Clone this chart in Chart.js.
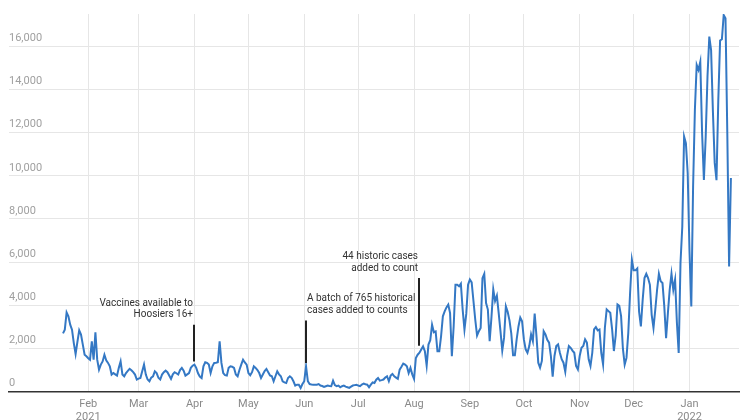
<!DOCTYPE html>
<html>
<head>
<meta charset="utf-8">
<script src="https://cdn.jsdelivr.net/npm/chart.js@4.4.1/dist/chart.umd.min.js"></script>
<style>
    html, body { margin: 0; padding: 0; background: #fff; overflow: hidden; }
    #wrap { position: relative; width: 750px; height: 430px; }
</style>
</head>
<body>
<div id="wrap"><canvas id="cases_chart"></canvas></div>
<script>
// daily new cases, one array per month; first value is Jan 18 2021
const firstDay = "2021-01-18";
const jan2021 = [2700, 2870, 3670, 3490, 3100, 2870, 2250, 1740, 2300, 2840, 2640, 2180, 1710, 1640];
const feb2021 = [1550, 1480, 2330, 1480, 2750, 1480, 1020, 1250, 1400, 1710, 1450, 1330, 1170, 790, 860, 800, 740, 1100, 1400, 790, 710, 860, 960, 1050, 990, 900, 790, 560];
const mar2021 = [600, 630, 940, 1250, 790, 560, 480, 650, 710, 940, 860, 640, 560, 790, 900, 970, 900, 750, 590, 800, 900, 850, 790, 1000, 1100, 970, 740, 800, 860, 1100, 1200];
const apr2021 = [1250, 1100, 850, 700, 630, 1170, 1360, 1330, 1250, 860, 1170, 1330, 1340, 1360, 2330, 1330, 860, 760, 740, 1100, 1170, 1150, 1100, 790, 710, 1000, 1250, 1480, 1350, 1250];
const may2021 = [860, 760, 900, 1170, 1100, 1000, 860, 630, 790, 950, 1050, 900, 750, 710, 480, 710, 940, 800, 710, 480, 430, 400, 630, 710, 640, 480, 280, 320, 320, 170, 350];
const jun2021 = [480, 1170, 480, 350, 330, 320, 320, 320, 350, 280, 260, 220, 250, 280, 260, 250, 510, 300, 250, 280, 200, 250, 280, 230, 200, 170, 230, 280, 300, 320];
const jul2021 = [280, 250, 330, 370, 340, 320, 200, 320, 430, 400, 550, 630, 510, 530, 560, 650, 710, 480, 740, 820, 710, 650, 590, 1020, 1150, 1300, 1250, 1170, 860, 1100, 800];
const aug2021 = [590, 1560, 1710, 1800, 1950, 2100, 1870, 1200, 2180, 2380, 3100, 2750, 2790, 1870, 1870, 2560, 3490, 3720, 3900, 4030, 3640, 1640, 3020, 4950, 4950, 4880, 5000, 3800, 2870, 3600, 4950];
const sep2021 = [5190, 5060, 4200, 3330, 2600, 2800, 2950, 5260, 5460, 4100, 3800, 2340, 3450, 4740, 4200, 4450, 3650, 2800, 1900, 2500, 3950, 3700, 3300, 2700, 1680, 1680, 2420, 3020, 3430, 3260];
const oct2021 = [2420, 1960, 1800, 2110, 2650, 2340, 3620, 2570, 1340, 1110, 1420, 2800, 2650, 2400, 2270, 1650, 690, 1650, 2110, 2190, 1800, 1500, 1340, 920, 1650, 2110, 2030, 1900, 1800, 1190, 1030];
const nov2021 = [1650, 2030, 2110, 2420, 2270, 1500, 1190, 1800, 2880, 2990, 2840, 2880, 1800, 1260, 2960, 3810, 3730, 3650, 2900, 1880, 2600, 4040, 3980, 3500, 2000, 1250, 1560, 2720, 4570, 6110];
const dec2021 = [5620, 5620, 5710, 3700, 3020, 4260, 5260, 5460, 5260, 4950, 3560, 2950, 3800, 4720, 5460, 5110, 5030, 3950, 2480, 3640, 4720, 5460, 4720, 5190, 3200, 1790, 5960, 7650, 11820, 11510, 10120];
const jan2022 = [6500, 3950, 9510, 13060, 15140, 14910, 15290, 11980, 9810, 11800, 14600, 16450, 15830, 13000, 10600, 9800, 13520, 16270, 16330, 17450, 17300, 12000, 5800, 9900];

const tickMonths = ["Feb", "Mar", "Apr", "May", "Jun", "Jul", "Aug", "Sep", "Oct", "Nov", "Dec", "Jan"];
const tickYears = ["2021", "", "", "", "", "", "", "", "", "", "", "2022"];
const yTicks = [0, 2000, 4000, 6000, 8000, 10000, 12000, 14000, 16000];

const notes = [
    { day: "2021-04-01", from: 1400, to: 3100, align: "right", lines: ["Vaccines available to", "Hoosiers 16+"] },
    { day: "2021-06-02", from: 1330, to: 3290, align: "left", lines: ["A batch of 765 historical", "cases added to counts"] },
    { day: "2021-08-04", from: 2130, to: 5260, align: "right", lines: ["44 historic cases", "added to count"] }
];

// days counted from Jan 1 2021
function dayIndex(s) {
    return (Date.parse(s) - Date.parse("2021-01-01")) / 86400000;
}

const dailyCases = [].concat(jan2021, feb2021, mar2021, apr2021, may2021, jun2021,
    jul2021, aug2021, sep2021, oct2021, nov2021, dec2021, jan2022);
const start = dayIndex(firstDay);
const points = dailyCases.map((v, i) => ({ x: start + i, y: v }));
const monthTicks = tickMonths.map((m, i) => (Date.UTC(2021, 1 + i, 1) - Date.UTC(2021, 0, 1)) / 86400000);

const notesPlugin = {
    id: "notes",
    afterDatasetsDraw(chart) {
        const { ctx, scales: { x, y } } = chart;
        ctx.save();
        notes.forEach(n => {
            const px = Math.round(x.getPixelForValue(dayIndex(n.day)));
            const top = y.getPixelForValue(n.to);
            ctx.strokeStyle = "#222";
            ctx.lineWidth = 2;
            ctx.beginPath();
            ctx.moveTo(px, top);
            ctx.lineTo(px, y.getPixelForValue(n.from));
            ctx.stroke();
            ctx.fillStyle = "#333";
            ctx.font = "10px Roboto";
            ctx.textBaseline = "middle";
            ctx.textAlign = n.align;
            const tx = n.align === "right" ? px - 1 : px + 1;
            n.lines.forEach((line, i) => {
                ctx.fillText(line, tx, top - 10 - (n.lines.length - 1 - i) * 11.7);
            });
        });
        ctx.restore();
    }
};

new Chart(document.getElementById("cases_chart").getContext("2d"), {
    type: "line",
    data: {
        datasets: [{
            data: points,
            borderColor: "#3478c4",
            borderWidth: 2,
            pointRadius: 0,
            tension: 0,
            fill: false
        }]
    },
    options: {
        responsive: true,
        maintainAspectRatio: false,
        animation: false,
        layout: { padding: { top: 14, left: 9, right: 11, bottom: 0 } },
        plugins: { legend: { display: false }, tooltip: { enabled: false } },
        scales: {
            x: {
                type: "linear",
                min: -13,
                max: 392.5,
                afterBuildTicks: scale => { scale.ticks = monthTicks.map(v => ({ value: v })); },
                ticks: {
                    autoSkip: false,
                    maxRotation: 0,
                    padding: 6,
                    color: "#8a8a8a",
                    font: { family: "Roboto", size: 11 },
                    callback: (value, i) => tickYears[i] ? [tickMonths[i], tickYears[i]] : tickMonths[i]
                },
                grid: { color: "#e6e6e6", drawTicks: false },
                border: { display: true, color: "#333", width: 1.5 }
            },
            y: {
                min: 0,
                max: 17500,
                afterBuildTicks: scale => { scale.ticks = yTicks.map(v => ({ value: v })); },
                ticks: {
                    mirror: true,
                    padding: 0,
                    labelOffset: -8,
                    color: "#a0a0a0",
                    font: { family: "Roboto", size: 11 },
                    callback: v => v.toLocaleString("en-US")
                },
                grid: {
                    drawTicks: false,
                    color: ctx => ctx.tick && ctx.tick.value === 0 ? "rgba(0,0,0,0)" : "#e6e6e6"
                },
                border: { display: false }
            }
        }
    },
    plugins: [notesPlugin]
});
</script>
</body>
</html>
